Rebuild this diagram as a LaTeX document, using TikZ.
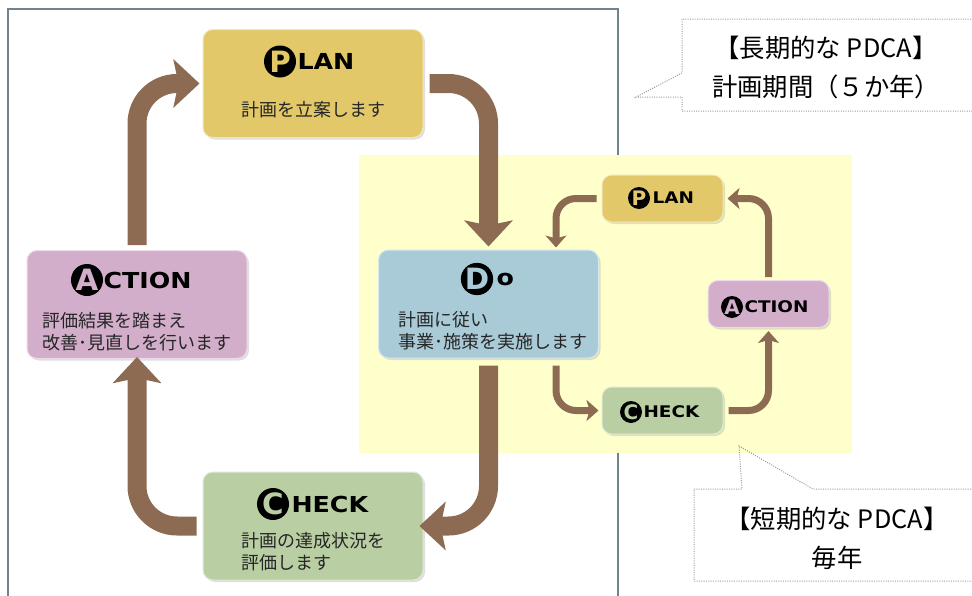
\documentclass[tikz,border=0pt]{standalone}
\usepackage{fontspec}
\setmainfont{Noto Sans CJK JP}
\newfontfamily\headfont{DejaVu Sans}
\usetikzlibrary{arrows.meta, positioning, calc, shadows}
\definecolor{PlanGold}{RGB}{226,200,104}
\definecolor{DoBlue}{RGB}{169,203,215}
\definecolor{CheckGreen}{RGB}{185,207,163}
\definecolor{ActPink}{RGB}{211,174,203}
\definecolor{ArrowBrown}{RGB}{141,107,82}
\definecolor{PaleYellow}{RGB}{255,255,204}
\definecolor{FrameGray}{RGB}{112,132,142}
\newlength{\pix}
\setlength{\pix}{0.75pt}
% wide heavy lettering of the stage titles
\newcommand{\wide}[1]{\scalebox{1.15}[1]{#1}}

\begin{document}
\begin{tikzpicture}[x=0.75pt, y=-0.75pt,
  stage/.style={rounded corners=10\pix, fill=#1, draw=white!55!#1,
                line width=1\pix, inner sep=0,
                drop shadow={opacity=0.25, shadow xshift=1.5pt, shadow yshift=-1.5pt}},
  bigbox/.style={stage=#1, minimum width=220\pix, minimum height=108\pix},
  smallbox/.style={stage=#1, minimum width=121\pix, minimum height=47\pix},
  disc/.style={circle, fill=black, text=#1, inner sep=0, minimum size=32\pix,
               font=\headfont\bfseries\fontsize{22pt}{22pt}\selectfont},
  sdisc/.style={circle, fill=black, text=#1, inner sep=0, minimum size=22\pix,
                font=\headfont\bfseries\fontsize{15pt}{15pt}\selectfont},
  ttl/.style={inner sep=0, font=\headfont\bfseries\fontsize{16.5pt}{16.5pt}\selectfont},
  sttl/.style={inner sep=0, font=\headfont\bfseries\fontsize{12pt}{12pt}\selectfont},
  body/.style={inner sep=0, align=left, text=black!85,
               font=\fontsize{13.5pt}{16.5pt}\selectfont},
  note/.style={inner sep=0, align=center, font=\fontsize{19pt}{29.25pt}\selectfont},
  callout/.style={draw=gray!80, densely dotted, line width=1\pix},
  bigarr/.style={draw=ArrowBrown, line width=19\pix, rounded corners=40\pix,
                 -{Stealth[length=19.5pt, width=36pt, inset=3.75pt]}},
  smallarr/.style={draw=ArrowBrown, line width=7\pix, rounded corners=20\pix,
                   -{Stealth[length=9pt, width=15.75pt, inset=2.25pt]}},
]
\clip (0,0) rectangle (972,596);

% frame of the five-year cycle and the yearly area
\draw[FrameGray, line width=1.5\pix] (8,9) rectangle (618,640);
\fill[PaleYellow] (359,155) rectangle (852,453);

% long-term cycle
\node[bigbox=PlanGold]   (plan)   at (313,83.5) {};
\node[bigbox=ActPink]    (action) at (137,304.5) {};
\node[bigbox=DoBlue]     (do)     at (488.5,304) {};
\node[bigbox=CheckGreen] (check)  at (313,526) {};

\node[disc=PlanGold] (planP) at (280,61.5) {P};
\node[ttl, right=1\pix of planP] (planT) {\wide{LAN}};
\node[body] (plantxt) at (313,110) {計画を立案します};

\node[disc=ActPink] (actionA) at (87,280) {A};
\node[ttl, right=0\pix of actionA] (actionT) {\wide{CTION}};
\node[body] (actiontxt) at (137,331.5) {評価結果を踏まえ\\改善･見直しを行います};

\node[disc=DoBlue] (doD) at (477,279) {D};
\node[ttl, right=3\pix of doD] (doT) {\wide{o}};
\node[body] (dotxt) at (493,331) {計画に従い\\事業･施策を実施します};

\node[disc=CheckGreen] (checkC) at (273,504) {C};
\node[ttl, right=2\pix of checkC] (checkT) {\wide{HECK}};
\node[body] (checktxt) at (313,552) {計画の達成状況を\\評価します};

\draw[bigarr, shorten <=5\pix, shorten >=3\pix] (action.north) |- (plan.west);
\draw[bigarr, shorten <=6\pix, shorten >=3\pix] (plan.east) -| (do.north);
\draw[bigarr, shorten <=7\pix, shorten >=-4\pix] (do.south) |- (check.east);
\draw[bigarr, shorten <=6\pix, shorten >=-2\pix] (check.west) -| (action.south);

% yearly cycle
\node[smallbox=PlanGold]   (splan)   at (662.5,198.5) {};
\node[smallbox=ActPink]    (saction) at (768.5,304) {};
\node[smallbox=CheckGreen] (scheck)  at (662.5,410.5) {};

\node[sdisc=PlanGold] (splanP) at (639,198) {P};
\node[sttl, right=2\pix of splanP] (splanT) {\wide{LAN}};
\node[sdisc=ActPink] (sactionA) at (732,307) {A};
\node[sttl, right=1\pix of sactionA] (sactionT) {\wide{CTION}};
\node[sdisc=CheckGreen] (scheckC) at (631,412) {C};
\node[sttl, right=1\pix of scheckC] (scheckT) {\wide{HECK}};

\coordinate (doin)  at ($(do.north)+(67.5,0)$);
\coordinate (doout) at ($(do.south)+(67.5,0)$);
\draw[smallarr, shorten <=5\pix, shorten >=2\pix] (splan.west) -| (doin);
\draw[smallarr, shorten <=7\pix, shorten >=3\pix] (doout) |- (scheck.west);
\draw[smallarr, shorten <=5\pix, shorten >=3\pix] (scheck.east) -| (saction.south);
\draw[smallarr, shorten <=3\pix, shorten >=4\pix] (saction.north) |- (splan.east);

% callouts
\draw[callout] (985,19) -- (682,19) -- (682,73) -- (636,97) -- (682,97)
  -- (682,111) -- (985,111);
\node[note] (longnote) at (826,67.5) {【長期的な PDCA】\\計画期間（５か年）};
\draw[callout] (985,489) -- (813,489) -- (739,446) -- (742,489) -- (694,489)
  -- (694,581) -- (985,581);
\node[note] (shortnote) at (837,538.5) {【短期的な PDCA】\\毎年};
\end{tikzpicture}
\end{document}
